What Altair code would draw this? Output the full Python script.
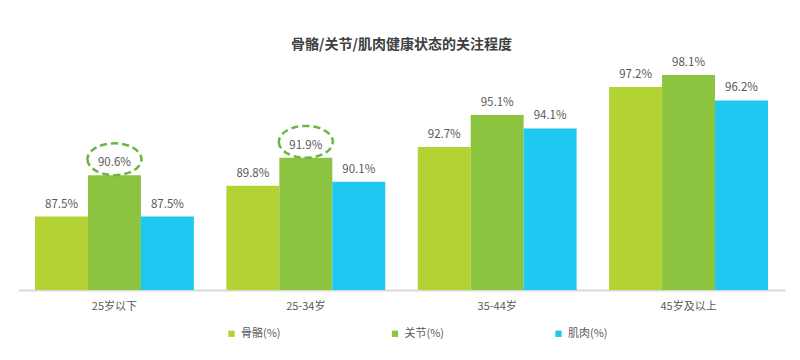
import altair as alt
import pandas as pd

groups = ["25岁以下", "25-34岁", "35-44岁", "45岁及以上"]
series = ["骨骼(%)", "关节(%)", "肌肉(%)"]
bone = [87.5, 89.8, 92.7, 97.2]
joint = [90.6, 91.9, 95.1, 98.1]
muscle = [87.5, 90.1, 94.1, 96.2]
colors = ["#b3d234", "#8cc43f", "#1ec8f0"]
highlight_groups = ["25岁以下", "25-34岁"]
highlight_series = "关节(%)"
title_text = "骨骼/关节/肌肉健康状态的关注程度"

rows = []
for s, vals in zip(series, [bone, joint, muscle]):
    for g, v in zip(groups, vals):
        rows.append({"group": g, "series": s, "value": v, "label": f"{v:.1f}%"})
df = pd.DataFrame(rows)
hl = df[(df["series"] == highlight_series) & (df["group"].isin(highlight_groups))]

FONT = "Noto Sans CJK SC"

x = alt.X("group:N", sort=groups,
          scale=alt.Scale(paddingInner=0.17, paddingOuter=0.089),
          axis=alt.Axis(title=None, labelAngle=0, ticks=False, domainColor="#d9d9d9",
                        domainWidth=2, labelFontSize=11, labelColor="#595959",
                        labelPadding=10, labelFont=FONT))
xo = alt.XOffset("series:N", sort=series, scale=alt.Scale(paddingInner=0, paddingOuter=0))
y = alt.Y("value:Q", scale=alt.Scale(domain=[82, 99], zero=False, clamp=True), axis=None)

base = alt.Chart(df)

bars = base.mark_bar().encode(
    x=x, xOffset=xo, y=y,
    color=alt.Color("series:N", sort=series,
                    scale=alt.Scale(domain=series, range=colors),
                    legend=alt.Legend(title=None, orient="none", legendX=208, legendY=265,
                                      direction="horizontal", symbolType="square",
                                      symbolSize=40, labelFontSize=11, labelColor="#595959",
                                      labelFont=FONT, columnPadding=108.5, labelOffset=4)),
)

labels = base.mark_text(baseline="bottom", dy=-7, fontSize=11.5, color="#595959", font=FONT).encode(
    x=x, xOffset=xo, y=y, text="label:N"
)

ellipse_path = "M -1 -0.59 A 1 0.59 0 1 0 1 -0.59 A 1 0.59 0 1 0 -1 -0.59 Z"
rings = alt.Chart(hl).mark_point(
    shape=ellipse_path, filled=False, size=2916, stroke="#6ab544",
    strokeWidth=2.5, strokeDash=[7, 4], opacity=1
).encode(x=x, xOffset=xo, y=y)

chart = alt.layer(bars, labels, rings).properties(
    width=767, height=227,
    padding={"left": 10, "top": 55, "right": 7, "bottom": 55},
    autosize=alt.AutoSizeParams(type="none"),
    background="white",
    title=alt.TitleParams(title_text, fontSize=14, fontWeight="bold", color="#404040",
                          font=FONT, anchor="middle", offset=5),
).configure_view(stroke=None)

chart.save("out.html", embed_options={"renderer": "svg", "actions": False})
